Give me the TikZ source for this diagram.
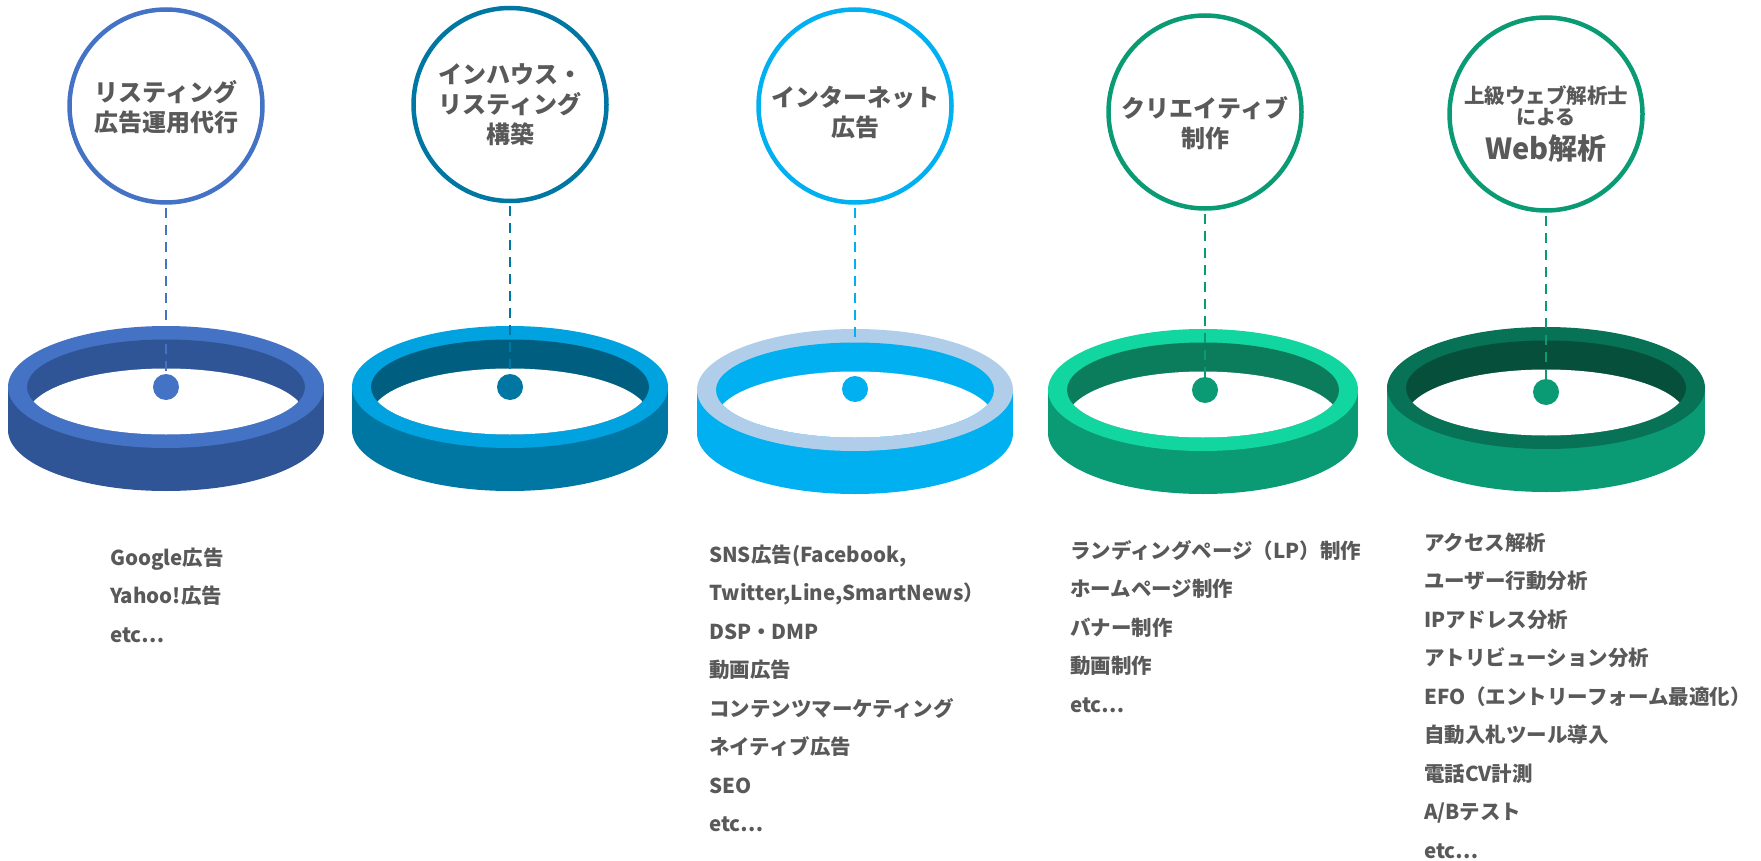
\documentclass[tikz,border=0pt]{standalone}
\usepackage{fontspec}
\newfontfamily\jp{Noto Sans CJK JP}
\definecolor{txtgray}{HTML}{595959}
\definecolor{aRim}{HTML}{4472C4}\definecolor{aSide}{HTML}{2F5597}\definecolor{aIn}{HTML}{2F5597}\definecolor{aMain}{HTML}{4472C4}
\definecolor{bRim}{HTML}{00A3E0}\definecolor{bSide}{HTML}{0076A3}\definecolor{bIn}{HTML}{005E80}\definecolor{bMain}{HTML}{0076A3}
\definecolor{cRim}{HTML}{B0CEEA}\definecolor{cSide}{HTML}{00B0F0}\definecolor{cIn}{HTML}{00B0F0}\definecolor{cMain}{HTML}{00B0F0}
\definecolor{dRim}{HTML}{12D6A0}\definecolor{dSide}{HTML}{0B9B74}\definecolor{dIn}{HTML}{0B7C5C}\definecolor{dMain}{HTML}{0B9B74}
\definecolor{eRim}{HTML}{077255}\definecolor{eSide}{HTML}{0B9B74}\definecolor{eIn}{HTML}{064F3B}\definecolor{eMain}{HTML}{0B9B74}
% cx, cy, outer x radius, rim colour, side colour, inner wall colour
\newcommand\drawring[6]{%
  \fill[#5] (#1-#3,#2) rectangle (#1+#3,#2+43);
  \fill[#5] (#1,#2+43) ellipse [x radius=#3, y radius=61];
  \fill[#4] (#1,#2) ellipse [x radius=#3, y radius=61];
  \fill[#6] (#1,#2) ellipse [x radius=#3-19, y radius=47.5];
  \begin{scope}
    \clip (#1,#2) ellipse [x radius=#3-19, y radius=47.5];
    \fill[white] (#1,#2+29) ellipse [x radius=#3-19, y radius=47.5];
  \end{scope}}
\newcommand\etcdots{etc⋯}
\begin{document}
\begin{tikzpicture}[x=1pt,y=-1pt,
  titlecircle/.style={circle, minimum size=193pt, inner sep=0pt, line width=4.5pt, fill=white},
  dotnode/.style={circle, minimum size=26pt, inner sep=0pt},
  dashline/.style={line width=2pt, dash pattern=on 10pt off 7pt, shorten <=3pt},
  titletext/.style={align=center, inner sep=0pt, text=txtgray, font=\jp\bfseries\fontsize{24}{30}\selectfont},
  item/.style={anchor=base west, inner sep=0pt, text=txtgray, font=\jp\bfseries\fontsize{20.5}{25}\selectfont}]
\useasboundingbox (0,0) rectangle (1761,861);
% rings
\drawring{166}{387}{158}{aRim}{aSide}{aIn}
\drawring{510}{387}{158}{bRim}{bSide}{bIn}
\drawring{855}{390}{158}{cRim}{cSide}{cIn}
\drawring{1203}{390}{155}{dRim}{dSide}{dIn}
\drawring{1546}{388}{159}{eRim}{eSide}{eIn}
% dots
\node[dotnode, fill=aMain] (d1) at (166,387) {};
\node[dotnode, fill=bMain] (d2) at (510,387) {};
\node[dotnode, fill=cMain] (d3) at (855,389) {};
\node[dotnode, fill=dMain] (d4) at (1205,390) {};
\node[dotnode, fill=eMain] (d5) at (1546,392) {};
% title circles
\node[titlecircle, draw=aMain] (c1) at (166,106) {};
\node[titlecircle, draw=bMain] (c2) at (510,104.5) {};
\node[titlecircle, draw=cMain] (c3) at (855,106) {};
\node[titlecircle, draw=dMain] (c4) at (1205,112) {};
\node[titlecircle, draw=eMain] (c5) at (1546,114) {};
% connectors
\draw[dashline, aMain] (c1) -- (d1);
\draw[dashline, bMain] (c2) -- (d2);
\draw[dashline, cMain] (c3) -- (d3);
\draw[dashline, dMain] (c4) -- (d4);
\draw[dashline, eMain] (c5) -- (d5);
% titles
\node[titletext] (t1) at (166,107) {リスティング\\広告運用代行};
\node[titletext] (t2) at (510,105) {インハウス・\\リスティング\\構築};
\node[titletext] (t3) at (855,112) {インターネット\\広告};
\node[titletext] (t4) at (1205,123) {クリエイティブ\\制作};
\node[titletext, font=\jp\bfseries\fontsize{20.5}{24}\selectfont] (t5a) at (1546,96) {上級ウェブ解析士};
\node[titletext, font=\jp\bfseries\fontsize{20}{24}\selectfont] (t5b) at (1546,117) {による};
\node[titletext, font=\jp\bfseries\fontsize{29}{32}\selectfont] (t5c) at (1546,148) {Web解析};
% list 1
\node[item] (l1a) at (110,565) {Google広告};
\node[item] (l1b) at (110,603) {Yahoo!広告};
\node[item] (l1c) at (110,642) {\etcdots};
% list 3
\node[item] (l3a) at (709,562) {SNS広告(Facebook,};
\node[item] (l3b) at (709,600.5) {Twitter,Line,SmartNews）};
\node[item] (l3c) at (709,639) {DSP・DMP};
\node[item] (l3d) at (709,677.5) {動画広告};
\node[item] (l3e) at (709,716) {コンテンツマーケティング};
\node[item] (l3f) at (709,754.5) {ネイティブ広告};
\node[item] (l3g) at (709,793) {SEO};
\node[item] (l3h) at (709,831.5) {\etcdots};
% list 4
\node[item] (l4a) at (1070,558) {ランディングページ（LP）制作};
\node[item] (l4b) at (1070,596.5) {ホームページ制作};
\node[item] (l4c) at (1070,635) {バナー制作};
\node[item] (l4d) at (1070,673.5) {動画制作};
\node[item] (l4e) at (1070,712) {\etcdots};
% list 5
\node[item] (l5a) at (1424,550) {アクセス解析};
\node[item] (l5b) at (1424,588.5) {ユーザー行動分析};
\node[item] (l5c) at (1424,627) {IPアドレス分析};
\node[item] (l5d) at (1424,665.5) {アトリビューション分析};
\node[item] (l5e) at (1424,704) {EFO（エントリーフォーム最適化）};
\node[item] (l5f) at (1424,742.5) {自動入札ツール導入};
\node[item] (l5g) at (1424,781) {電話CV計測};
\node[item] (l5h) at (1424,819.5) {A/Bテスト};
\node[item] (l5i) at (1424,858) {\etcdots};
\end{tikzpicture}
\end{document}
